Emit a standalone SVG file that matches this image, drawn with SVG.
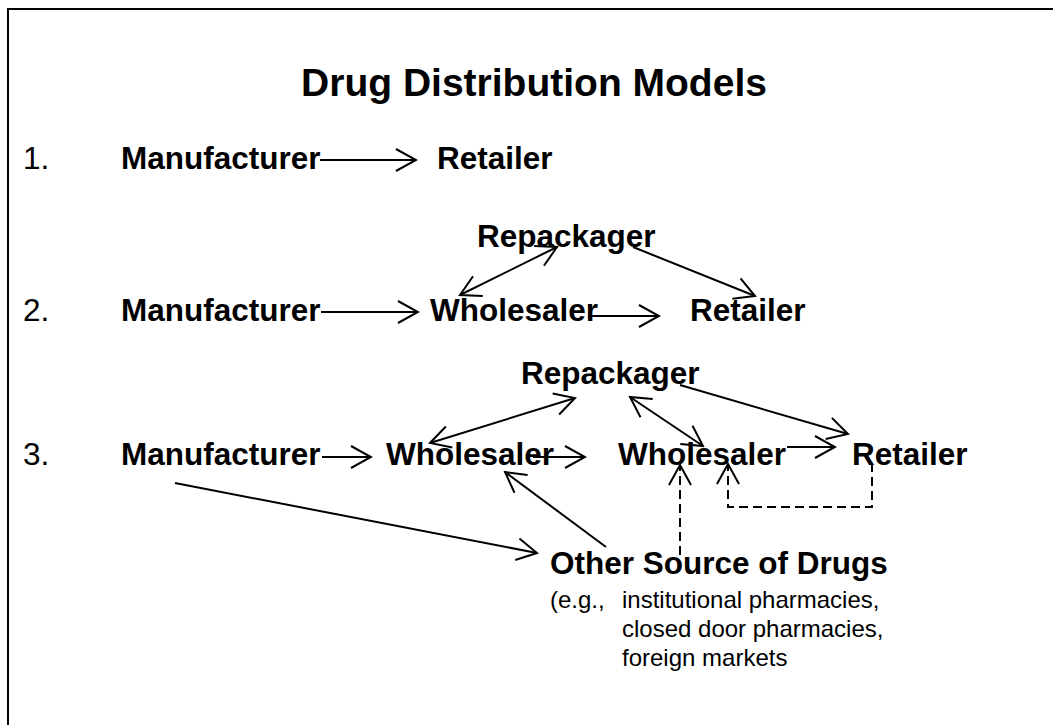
<svg xmlns="http://www.w3.org/2000/svg" width="1053" height="725" viewBox="0 0 1053 725">
  <style>
    .title { font-family: "Liberation Sans", Arial, sans-serif; font-size: 39px; font-weight: bold; fill: #000; }
    .node { font-family: "Liberation Sans", Arial, sans-serif; font-size: 31.5px; font-weight: bold; fill: #000; }
    .num { font-family: "Liberation Sans", Arial, sans-serif; font-size: 31.5px; fill: #000; }
    .note { font-family: "Liberation Sans", Arial, sans-serif; font-size: 24px; fill: #000; }
    .edge { fill: none; stroke: #000; stroke-width: 2; marker-end: url(#open); }
    .both { marker-start: url(#open); }
    .dash { stroke-dasharray: 9 5; }
  </style>
  <defs>
    <marker id="open" viewBox="-23 -13 25 26" refX="0" refY="0" markerWidth="25" markerHeight="26" markerUnits="userSpaceOnUse" orient="auto-start-reverse">
      <path d="M-20,-11 L0,0 L-20,11" fill="none" stroke="#000" stroke-width="2"/>
    </marker>
  </defs>

  <rect width="1053" height="725" fill="#fff"/>
  <!-- page frame (runs off the right and bottom edges) -->
  <rect x="8" y="9" width="1060" height="730" fill="none" stroke="#000" stroke-width="2"/>

  <text class="title" x="534" y="96" text-anchor="middle">Drug Distribution Models</text>

  <!-- model 1 -->
  <text class="num" x="23" y="169">1.</text>
  <g id="m1-manufacturer"><text class="node" x="121" y="169">Manufacturer</text></g>
  <g id="m1-retailer"><text class="node" x="437" y="169">Retailer</text></g>

  <!-- model 2 -->
  <text class="num" x="23" y="321">2.</text>
  <g id="m2-manufacturer"><text class="node" x="121" y="321">Manufacturer</text></g>
  <g id="m2-wholesaler"><text class="node" x="430" y="321">Wholesaler</text></g>
  <g id="m2-retailer"><text class="node" x="690" y="321">Retailer</text></g>
  <g id="m2-repackager"><text class="node" x="477" y="247">Repackager</text></g>

  <!-- model 3 -->
  <text class="num" x="23" y="465">3.</text>
  <g id="m3-manufacturer"><text class="node" x="121" y="465">Manufacturer</text></g>
  <g id="m3-wholesaler-a"><text class="node" x="386" y="465">Wholesaler</text></g>
  <g id="m3-wholesaler-b"><text class="node" x="618" y="465">Wholesaler</text></g>
  <g id="m3-retailer"><text class="node" x="852" y="465">Retailer</text></g>
  <g id="m3-repackager"><text class="node" x="521" y="384">Repackager</text></g>
  <g id="m3-other-source">
    <text class="node" x="550" y="574">Other Source of Drugs</text>
    <text class="note" x="550" y="608">(e.g.,</text>
    <text class="note" x="622" y="608">institutional pharmacies,</text>
    <text class="note" x="622" y="637">closed door pharmacies,</text>
    <text class="note" x="622" y="666">foreign markets</text>
  </g>

  <g id="connectors">
    <!-- model 1 -->
    <line class="edge" x1="320" y1="160" x2="416" y2="160"/>
    <!-- model 2 -->
    <line class="edge" x1="321" y1="312" x2="418" y2="312"/>
    <line class="edge both" x1="460" y1="295" x2="557" y2="247"/>
    <line class="edge" x1="633" y1="247" x2="755" y2="296"/>
    <line class="edge" x1="588" y1="316" x2="659" y2="316"/>
    <!-- model 3 -->
    <line class="edge" x1="322" y1="457" x2="371" y2="457"/>
    <line class="edge" x1="533" y1="457" x2="585" y2="457"/>
    <line class="edge both" x1="430" y1="443" x2="575" y2="398"/>
    <line class="edge" x1="606" y1="547" x2="505" y2="472"/>
    <line class="edge" x1="175" y1="483" x2="537" y2="553"/>
    <line class="edge both" x1="630" y1="397" x2="703" y2="446"/>
    <line class="edge" x1="680" y1="385" x2="848" y2="434"/>
    <line class="edge" x1="787" y1="447" x2="835" y2="447"/>
    <line class="edge dash" x1="680" y1="555" x2="680" y2="465"/>
    <polyline class="edge dash" points="872,463 872,507 728,507 728,464"/>
  </g>
</svg>
